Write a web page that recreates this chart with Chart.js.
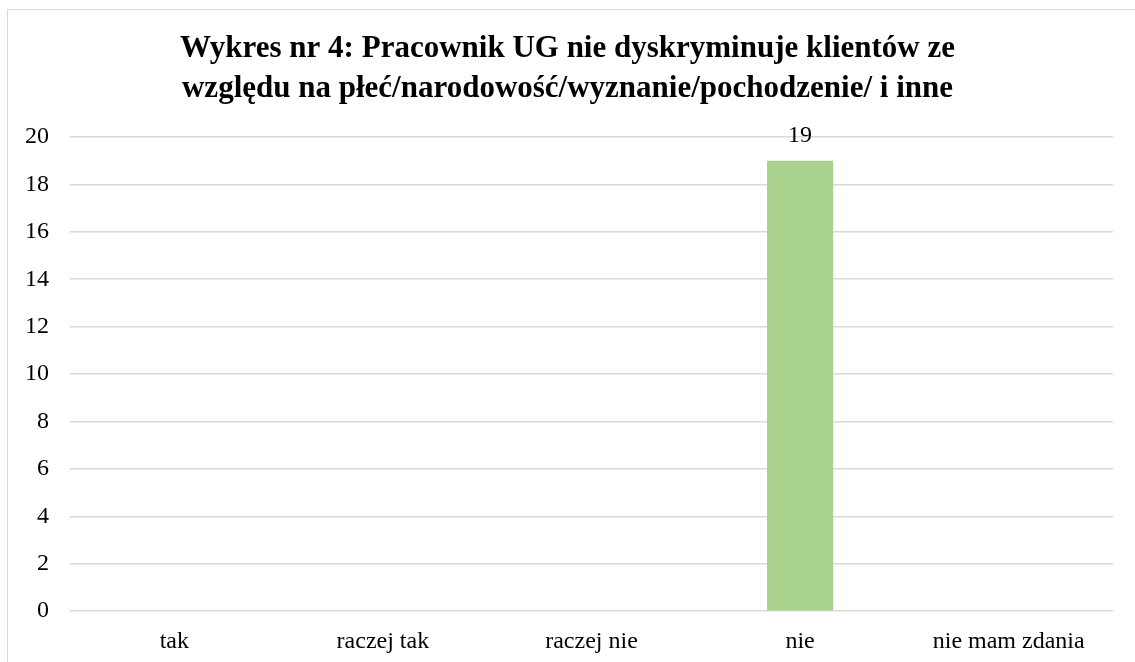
<!DOCTYPE html>
<html>
<head>
<meta charset="utf-8">
<script src="https://cdn.jsdelivr.net/npm/chart.js@4"></script>
<style>
  html, body { margin: 0; padding: 0; background: #fff; overflow: hidden; }
  .frame {
    position: absolute; left: 7px; top: 9px; width: 1200px; height: 700px;
    border: 1px solid #d9d9d9;
  }
  .wrap { position: absolute; left: 0; top: 0; width: 1135px; height: 662px; }
</style>
</head>
<body>
<div class="frame"></div>
<div class="wrap"><canvas id="chart"></canvas></div>
<script>
const categories = ['tak', 'raczej tak', 'raczej nie', 'nie', 'nie mam zdania'];
const answers = [0, 0, 0, 19, 0];
const yTicks = [0, 2, 4, 6, 8, 10, 12, 14, 16, 18, 20];
const titleLines = [
    'Wykres nr 4: Pracownik UG nie dyskryminuje klientów ze',
    'względu na płeć/narodowość/wyznanie/pochodzenie/ i inne'
];

const serif = "'Liberation Serif', 'Times New Roman', serif";

// draw value labels above bars (only non-zero ones, like the original)
const barLabels = {
    id: 'barLabels',
    afterDatasetsDraw(chart) {
        const ctx = chart.ctx;
        const meta = chart.getDatasetMeta(0);
        ctx.save();
        ctx.font = '24px ' + serif;
        ctx.fillStyle = '#000';
        ctx.textAlign = 'center';
        ctx.textBaseline = 'middle';
        meta.data.forEach((bar, i) => {
            const v = answers[i];
            if (!v) return;
            ctx.fillText(String(v), bar.x, bar.y - 25);
        });
        ctx.restore();
    }
};

const ctx = document.getElementById('chart').getContext('2d');
new Chart(ctx, {
    type: 'bar',
    data: {
        labels: categories,
        datasets: [{
            data: answers,
            backgroundColor: '#a9d18e',
            categoryPercentage: 1,
            barPercentage: 0.317
        }]
    },
    options: {
        responsive: true,
        maintainAspectRatio: false,
        animation: false,
        layout: { padding: { left: 14, right: 14, top: 0, bottom: -2 } },
        plugins: {
            legend: { display: false },
            tooltip: { enabled: false },
            title: {
                display: true,
                text: titleLines,
                color: '#000',
                font: { family: serif, size: 31, weight: 'bold', lineHeight: 1.29 },
                padding: { top: 29, bottom: 28 }
            }
        },
        scales: {
            x: {
                grid: { display: false },
                border: { display: false },
                ticks: { color: '#000', font: { family: serif, size: 24 }, padding: 8 }
            },
            y: {
                min: 0,
                max: 20,
                afterBuildTicks(axis) {
                    axis.ticks = yTicks.map(v => ({ value: v }));
                },
                afterFit(axis) { axis.width = 56; },
                grid: { color: '#d9d9d9', lineWidth: 1.5, drawTicks: false },
                border: { display: false },
                ticks: { color: '#000', font: { family: serif, size: 24 }, padding: 21 }
            },
            // empty spacer on the right so the plot ends where the original does
            yRight: {
                type: 'linear',
                position: 'right',
                grid: { display: false },
                border: { display: false },
                ticks: { display: false },
                afterFit(axis) { axis.width = 8; }
            }
        }
    },
    plugins: [barLabels]
});
</script>
</body>
</html>
